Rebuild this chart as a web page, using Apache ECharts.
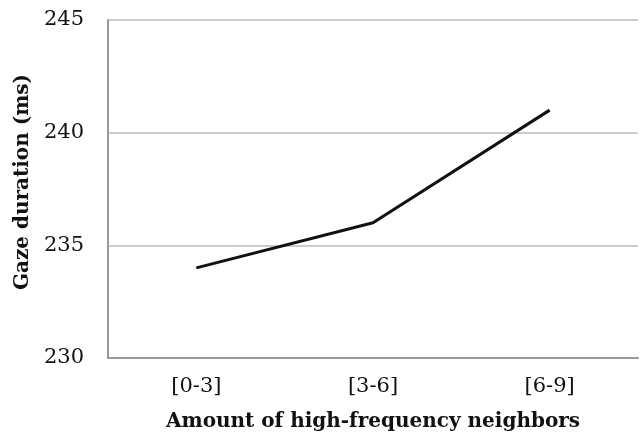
<!DOCTYPE html>
<html><head><meta charset="utf-8">
<script src="https://cdn.jsdelivr.net/npm/echarts@6/dist/echarts.min.js"></script>
<style>html,body{margin:0;padding:0;background:#fff}#c{width:640px;height:438px}</style>
</head><body><div id="c"></div>
<script>
const categories = ['[0-3]', '[3-6]', '[6-9]'];
const gazeDuration = [234, 236, 241];
const yTicks = [230, 235, 240, 245];

const font = '"DejaVu Serif", "Liberation Serif", serif';
const chart = echarts.init(document.getElementById('c'), null, {renderer: 'canvas'});
chart.setOption({
  animation: false,
  backgroundColor: '#fff',
  grid: {left: 108, right: 2, top: 20, bottom: 80},
  xAxis: {
    type: 'category', data: categories, boundaryGap: true,
    name: 'Amount of high-frequency neighbors', nameLocation: 'middle', nameGap: 54,
    nameTextStyle: {fontFamily: font, fontWeight: 'bold', fontSize: 20, color: '#111'},
    axisLine: {lineStyle: {color: '#999', width: 2}},
    axisTick: {show: false},
    axisLabel: {fontFamily: font, fontSize: 21, color: '#111', margin: 18}
  },
  yAxis: {
    type: 'value', min: yTicks[0], max: yTicks[yTicks.length - 1], interval: 5,
    name: 'Gaze duration (ms)', nameLocation: 'middle', nameGap: 72, nameRotate: 90,
    nameTextStyle: {fontFamily: font, fontWeight: 'bold', fontSize: 20, color: '#111', padding: [0, 0, 0, 14]},
    axisLine: {show: true, lineStyle: {color: '#999', width: 2}},
    axisTick: {show: false},
    axisLabel: {fontFamily: font, fontSize: 21, color: '#111', margin: 24},
    splitLine: {lineStyle: {color: '#bbb', width: 1.5}}
  },
  series: [{
    type: 'line', data: gazeDuration, symbol: 'none',
    lineStyle: {color: '#111', width: 3}
  }]
});
</script></body></html>
